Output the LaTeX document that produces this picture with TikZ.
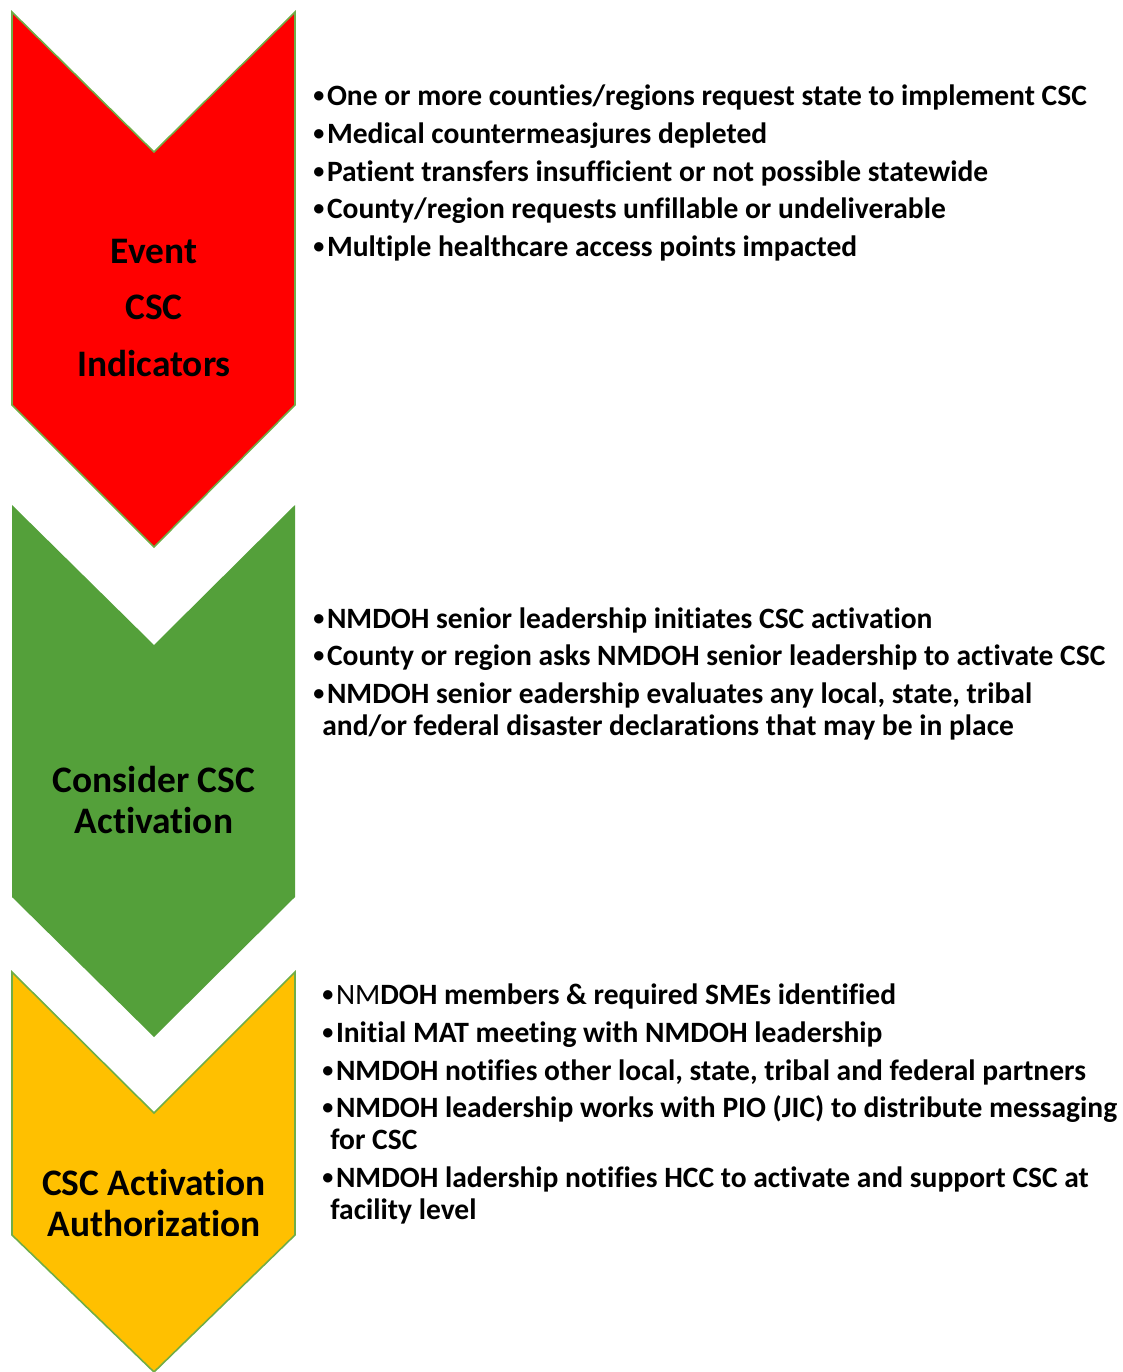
\documentclass[tikz,border=0pt]{standalone}
\usepackage{fontspec}
\setmainfont{Carlito}[Ligatures=NoCommon]
\usetikzlibrary{positioning}

\definecolor{evred}{RGB}{255,0,0}
\definecolor{cngreen}{RGB}{84,160,58}
\definecolor{auyellow}{RGB}{255,192,0}
\definecolor{edgegreen}{RGB}{112,173,71}

\newcommand{\itemdot}{\raisebox{0.22ex}{\scalebox{0.75}{\textbullet}}\hspace{1.5pt}}

\begin{document}
\begin{tikzpicture}[
        x=0.02cm, y=-0.02cm,
        chevron/.style={draw=edgegreen, line width=0.9pt, line join=miter},
        stage/.style={align=center, inner sep=0pt, font=\bfseries\fontsize{21.3}{23.2}\selectfont},
        item/.style={anchor=mid west, inner sep=0pt, font=\bfseries\fontsize{16.8}{20}\selectfont}
    ]
    \useasboundingbox (0,0) rectangle (1122,1372);

    % --- Chevrons ---
    \path[chevron, fill=evred] (12,12) -- (154,152) -- (295,12) -- (295,405) -- (154,547) -- (12,405) -- cycle;
    \path[fill=cngreen] (12,505) -- (154,645) -- (295,505) -- (295,897) -- (154,1037) -- (12,897) -- cycle;
    \path[chevron, fill=auyellow] (12,972) -- (154,1113) -- (295,972) -- (295,1235) -- (154,1372) -- (12,1235) -- cycle;

    % --- Stage names ---
    \node[stage, font=\bfseries\fontsize{21.3}{32.3}\selectfont] (event) at (154,308) {Event\\CSC\\Indicators};
    \node[stage] (consider) at (154,800) {Consider CSC\\Activation};
    \node[stage] (authorize) at (154,1203) {CSC Activation\\Authorization};

    % --- Event indicators ---
    \node[item] (r1) at (313,101) {\itemdot One or more counties/regions request state to implement CSC};
    \node[item] (r2) at (313,139) {\itemdot Medical countermeasjures depleted};
    \node[item] (r3) at (313,177) {\itemdot Patient transfers insufficient or not possible statewide};
    \node[item] (r4) at (313,214) {\itemdot County/region requests unfillable or undeliverable};
    \node[item] (r5) at (313,252) {\itemdot Multiple healthcare access points impacted};

    % --- Consider activation ---
    \node[item] (g1) at (313,624) {\itemdot NMDOH senior leadership initiates CSC activation};
    \node[item] (g2) at (313,661) {\itemdot County or region asks NMDOH senior leadership to activate CSC};
    \node[item] (g3) at (313,699) {\itemdot NMDOH senior eadership evaluates any local, state, tribal};
    \node[item] (g3b) at (322,731) {and/or federal disaster declarations that may be in place};

    % --- Activation authorization ---
    \node[item] (y1) at (322,1000) {\itemdot{\mdseries NM}DOH members \& required SMEs identified};
    \node[item] (y2) at (322,1038) {\itemdot Initial MAT meeting with NMDOH leadership};
    \node[item] (y3) at (322,1076) {\itemdot NMDOH notifies other local, state, tribal and federal partners};
    \node[item] (y4) at (322,1113) {\itemdot NMDOH leadership works with PIO (JIC) to distribute messaging};
    \node[item] (y4b) at (330,1145) {for CSC};
    \node[item] (y5) at (322,1183) {\itemdot NMDOH ladership notifies HCC to activate and support CSC at};
    \node[item] (y5b) at (330,1215) {facility level};

\end{tikzpicture}
\end{document}
